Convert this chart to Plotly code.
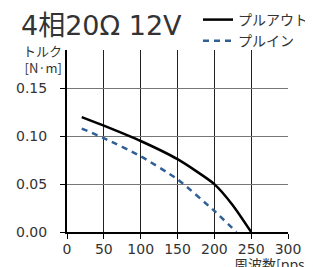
import plotly.graph_objects as go

pps_out = [20, 50, 100, 150, 200, 225, 250]
torque_out = [0.120, 0.111, 0.095, 0.076, 0.050, 0.028, 0.0]
pps_in = [20, 50, 100, 150, 200, 230]
torque_in = [0.108, 0.098, 0.079, 0.055, 0.022, 0.0]
x_ticks = [0, 50, 100, 150, 200, 250, 300]
y_ticks = [0.00, 0.05, 0.10, 0.15]

FONT = "DejaVu Sans, Noto Sans CJK JP"
JFONT = "Noto Sans CJK JP"
TXT = "#333"

# page body has an 8px default margin; compensate so the chart fills the 313x267 window
OFF = 8
W, H = 313 - OFF, 267 - OFF
pl, pr, pt, pb = 67 - OFF, 25, 50 - OFF, 35
pw, ph = W - pl - pr, H - pt - pb
def px(x): return (x - OFF - pl) / pw          # screen x -> paper
def py(y): return (H - pb - (y - OFF)) / ph    # screen y -> paper

fig = go.Figure()
fig.add_trace(go.Scatter(x=pps_out, y=torque_out, mode="lines", name="プルアウト",
                         line=dict(color="black", width=2.5, shape="spline", smoothing=0.6)))
fig.add_trace(go.Scatter(x=pps_in, y=torque_in, mode="lines", name="プルイン",
                         line=dict(color="#2f5f95", width=2.5, dash="6px,5px", shape="spline", smoothing=0.6)))

fig.update_layout(
    width=W, height=H,
    margin=dict(l=pl, r=pr, t=pt, b=pb, autoexpand=False),
    paper_bgcolor="white", plot_bgcolor="white",
    font=dict(family=FONT, color=TXT, size=14),
    showlegend=True,
    legend=dict(x=px(198), y=py(4), xref="paper", yref="paper", xanchor="left", yanchor="top",
                bgcolor="rgba(0,0,0,0)", itemwidth=30, tracegroupgap=0,
                font=dict(family=JFONT, size=14, color=TXT), borderwidth=0),
    xaxis=dict(range=[0, 300], tickvals=x_ticks, showgrid=True, gridcolor="#222", gridwidth=1,
               showline=True, linecolor="black", linewidth=2, ticks="outside", ticklen=5,
               tickcolor="black", zeroline=False, ticklabelstandoff=-2, automargin=False,
               tickfont=dict(family=FONT, size=14, color=TXT)),
    yaxis=dict(range=[0, 0.19], tickvals=y_ticks, tickformat=".2f", showgrid=True,
               gridcolor="#777", gridwidth=1, showline=True, linecolor="black", linewidth=2,
               ticks="outside", ticklen=5, tickcolor="black", zeroline=False, automargin=False,
               ticklabelstandoff=10, tickfont=dict(family=FONT, size=14, color=TXT)),
    annotations=[
        dict(text="4相20Ω 12V", x=px(19), y=py(8), xref="paper", yref="paper", showarrow=False,
             xanchor="left", yanchor="top", font=dict(family=FONT, size=27, color=TXT)),
        dict(text="トルク<br>[N·m]", x=px(64), y=py(79), xref="paper", yref="paper", showarrow=False,
             xanchor="right", yanchor="bottom", align="right",
             font=dict(family=JFONT, size=13, color=TXT)),
        dict(text="周波数[pps]", x=px(311), y=py(252), xref="paper", yref="paper", showarrow=False,
             xanchor="right", yanchor="top", font=dict(family=JFONT, size=14, color=TXT)),
    ],
)

fig.write_html("out.html")
